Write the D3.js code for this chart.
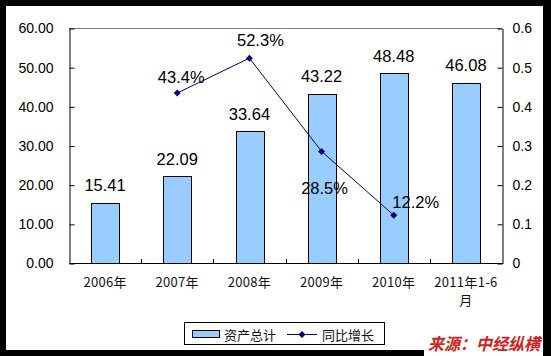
<!DOCTYPE html>
<html><head><meta charset="utf-8">
<script src="https://cdn.jsdelivr.net/npm/d3@7"></script>
<style>
html,body{margin:0;padding:0;background:#000;}
svg{display:block;}
</style></head>
<body>
<svg id="c" width="551" height="356"></svg>
<script>
// ---- data ----
const categories = ["2006年", "2007年", "2008年", "2009年", "2010年", "2011年1-6月"];
const assetTotals = [15.41, 22.09, 33.64, 43.22, 48.48, 46.08];
const growthRates = [null, 0.434, 0.523, 0.285, 0.122, null];
const growthLabels = [null, "43.4%", "52.3%", "28.5%", "12.2%", null];
const leftTicks = [0, 10, 20, 30, 40, 50, 60];
const rightTicks = [0, 0.1, 0.2, 0.3, 0.4, 0.5, 0.6];
const rightTickLabels = ["0", "0.1", "0.2", "0.3", "0.4", "0.5", "0.6"];
const legendNames = ["资产总计", "同比增长"];
const sourceText = "来源：中经纵横";

// ---- layout (not data) ----
const growthLabelOffsets = [null, [4, -10], [11, -12], [3, 43], [22, -7], null];
const plot = {left: 69, right: 502, top: 28, bottom: 263};
const latin = "'Liberation Sans', Arial, sans-serif";
const cjk = "'Noto Sans CJK SC', 'Noto Sans', sans-serif";

const svg = d3.select("#c");
svg.append("rect").attr("x", 6).attr("y", 6).attr("width", 537).attr("height", 344).attr("fill", "#fff");

const xCat = d3.scaleBand().domain(categories).range([plot.left, plot.right]).padding(0);
const xBar = d3.scaleBand().domain(categories).range([plot.left, plot.right]).paddingInner(0.615).paddingOuter(0.3075);
const yL = d3.scaleLinear().domain([0, 60]).range([plot.bottom, plot.top]);
const yR = d3.scaleLinear().domain([0, 0.6]).range([plot.bottom, plot.top]);

// top border
svg.append("line").attr("x1", plot.left).attr("x2", plot.right)
  .attr("y1", plot.top + 0.5).attr("y2", plot.top + 0.5).attr("stroke", "#808080");

// bars
svg.append("g").selectAll("rect").data(assetTotals).join("rect")
  .attr("x", (d, i) => Math.round(xBar(categories[i])) + 0.5)
  .attr("y", d => Math.round(yL(d)) + 0.5)
  .attr("width", Math.round(xBar.bandwidth()))
  .attr("height", d => Math.round(yL(0)) - Math.round(yL(d)))
  .attr("fill", "#99CCFF").attr("stroke", "#000").attr("stroke-width", 1);

// bar value labels
svg.append("g").selectAll("text").data(assetTotals).join("text")
  .attr("x", (d, i) => xCat(categories[i]) + xCat.bandwidth() / 2)
  .attr("y", d => yL(d) - 11.5)
  .attr("text-anchor", "middle")
  .attr("font-family", latin).attr("font-size", 16.5).attr("fill", "#000")
  .text(d => d.toFixed(2));

// left axis
const gL = svg.append("g").attr("transform", `translate(${plot.left + 0.5},0.5)`)
  .call(d3.axisLeft(yL).tickValues(leftTicks).tickSizeInner(-5).tickSizeOuter(0).tickPadding(16)
    .tickFormat(d3.format(".2f")));
gL.selectAll("path,line").attr("stroke", "#000");
gL.selectAll("text").attr("font-family", latin).attr("font-size", 14).attr("fill", "#000");

// right axis
const gR = svg.append("g").attr("transform", `translate(${plot.right + 0.5},0.5)`)
  .call(d3.axisRight(yR).tickValues(rightTicks).tickSizeInner(-5).tickSizeOuter(0).tickPadding(10)
    .tickFormat((d, i) => rightTickLabels[i]));
gR.selectAll("path,line").attr("stroke", "#000");
gR.selectAll("text").attr("font-family", latin).attr("font-size", 14).attr("fill", "#000");

// bottom axis
const gB = svg.append("g");
gB.append("line").attr("x1", plot.left).attr("x2", plot.right + 1)
  .attr("y1", plot.bottom + 0.5).attr("y2", plot.bottom + 0.5).attr("stroke", "#000");
const boundaries = categories.slice(1).map(c => xCat(c));
gB.selectAll("line.tk").data(boundaries).join("line").attr("class", "tk")
  .attr("x1", d => Math.round(d) + 0.5).attr("x2", d => Math.round(d) + 0.5)
  .attr("y1", plot.bottom).attr("y2", plot.bottom - 4).attr("stroke", "#000");

// category labels with wrapping
const bw = xCat.bandwidth();
categories.forEach((c, i) => {
  const cx = xCat(c) + bw / 2;
  const t = gB.append("text").attr("x", cx).attr("y", 287).attr("text-anchor", "middle")
    .attr("font-family", cjk).attr("font-size", 13).attr("fill", "#111").attr("letter-spacing", 0.3);
  const chars = Array.from(c);
  let line = "";
  let ts = t.append("tspan").attr("x", cx).attr("dy", 0);
  chars.forEach(ch => {
    ts.text(line + ch);
    if (ts.node().getComputedTextLength() > bw - 4 && line.length) {
      ts.text(line);
      line = ch;
      ts = t.append("tspan").attr("x", cx).attr("dy", 18).text(ch);
    } else {
      line += ch;
    }
  });
});

// growth line
const pts = growthRates.map((g, i) => g == null ? null : [xCat(categories[i]) + bw / 2, yR(g)]).filter(p => p);
svg.append("path").attr("d", d3.line()(pts)).attr("fill", "none").attr("stroke", "#000080").attr("stroke-width", 1);
const diamond = "M0,-3.5L3.5,0L0,3.5L-3.5,0Z";
svg.append("g").selectAll("path").data(pts).join("path")
  .attr("transform", d => `translate(${d[0]},${d[1]})`).attr("d", diamond).attr("fill", "#000080");

// growth labels
growthRates.forEach((g, i) => {
  if (g == null) return;
  const [dx, dy] = growthLabelOffsets[i];
  svg.append("text").attr("x", xCat(categories[i]) + bw / 2 + dx).attr("y", yR(g) + dy)
    .attr("text-anchor", "middle").attr("font-family", latin).attr("font-size", 16.5).attr("fill", "#000")
    .text(growthLabels[i]);
});

// legend
const lg = svg.append("g");
lg.append("rect").attr("x", 184.5).attr("y", 322.5).attr("width", 200).attr("height", 22)
  .attr("fill", "#fff").attr("stroke", "#000");
lg.append("rect").attr("x", 192.5).attr("y", 330.5).attr("width", 27).attr("height", 7)
  .attr("fill", "#99CCFF").attr("stroke", "#000");
lg.append("text").attr("x", 224).attr("y", 339.5).attr("font-family", cjk).attr("font-size", 13).attr("fill", "#111").text(legendNames[0]);
lg.append("line").attr("x1", 287).attr("x2", 317).attr("y1", 334.5).attr("y2", 334.5).attr("stroke", "#000080");
lg.append("path").attr("transform", "translate(302,334.5)").attr("d", diamond).attr("fill", "#000080");
lg.append("text").attr("x", 322).attr("y", 339.5).attr("font-family", cjk).attr("font-size", 13).attr("fill", "#111").text(legendNames[1]);

// source
svg.append("rect").attr("x", 424).attr("y", 331).attr("width", 119).attr("height", 25).attr("fill", "#fff");
svg.append("text").attr("x", 428).attr("y", 350).attr("font-family", cjk).attr("font-size", 16.5)
  .attr("font-weight", "bold").attr("font-style", "italic").attr("fill", "#d42020")
  .attr("textLength", 112).attr("lengthAdjust", "spacingAndGlyphs").text(sourceText);
</script>
</body></html>
